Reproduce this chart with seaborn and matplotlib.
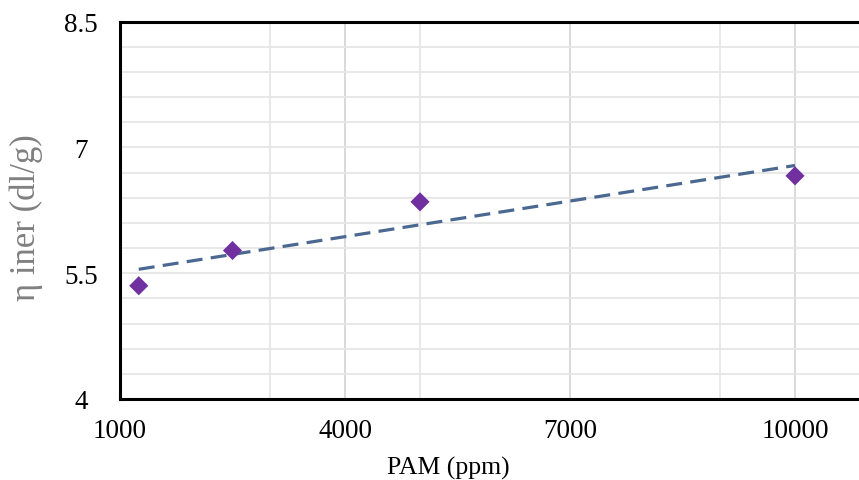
import numpy as np
import pandas as pd
import seaborn as sns
import matplotlib.pyplot as plt
from matplotlib.ticker import FixedLocator

# values
pam_ppm = [1250, 2500, 5000, 10000]
eta_iner = [5.35, 5.77, 6.35, 6.66]
x_ticks = [1000, 4000, 7000, 10000]
x_light_grid = [3000, 5000, 9000]
y_ticks = [4, 5.5, 7, 8.5]

df = pd.DataFrame({'PAM (ppm)': pam_ppm, 'eta': eta_iner})

sns.set_theme(style='white')
plt.rcParams['font.family'] = ['Liberation Serif', 'DejaVu Serif']

fig = plt.figure(figsize=(8.59, 4.81), dpi=100)
ax = fig.add_axes([120 / 859, 81 / 481, 739 / 859, 377.5 / 481])

# linear trendline
sns.regplot(data=df, x='PAM (ppm)', y='eta', scatter=False, ci=None, ax=ax,
            truncate=True,
            line_kws=dict(color='#4a6890', lw=2.3, linestyle=(0, (5, 2.6))))
sns.scatterplot(data=df, x='PAM (ppm)', y='eta', marker='D', s=95,
                color='#7030a0', edgecolor='none', zorder=4, ax=ax)

ax.set_xlim(1000, 10853)
ax.set_ylim(4, 8.5)
ax.set_xticks(x_ticks)
ax.set_xticklabels([str(t) for t in x_ticks])
ax.set_yticks(y_ticks)
ax.set_yticklabels(['4', '5.5', '7', '8.5'])
ax.xaxis.set_minor_locator(FixedLocator(x_light_grid))
ax.yaxis.set_minor_locator(FixedLocator(np.arange(4, 8.6, 0.3)))

ax.set_axisbelow(True)
ax.grid(which='major', axis='x', color='#d9d9d9', lw=1.4)
ax.grid(which='minor', axis='x', color='#e8e8e8', lw=1.4)
ax.grid(which='both', axis='y', color='#e6e6e6', lw=1.3)

ax.tick_params(which='both', length=0)
ax.tick_params(axis='x', labelsize=19.5, pad=14, colors='black')
ax.tick_params(axis='y', labelsize=19.5, pad=28, colors='black')
for lbl in ax.get_yticklabels():
    lbl.set_horizontalalignment('center')

for side in ['left', 'top', 'bottom']:
    ax.spines[side].set_color('black')
    ax.spines[side].set_linewidth(2.2)
    ax.spines[side].set_zorder(5)
ax.spines['right'].set_visible(False)

ax.set_xlabel('PAM (ppm)', fontsize=18.5, color='black')
ax.xaxis.set_label_coords(0.444, -0.152)
ax.set_ylabel('η iner (dl/g)', fontsize=25, color='#808080')
ax.yaxis.set_label_coords(-0.104, 0.483)

fig.savefig('out.png', dpi=100)
